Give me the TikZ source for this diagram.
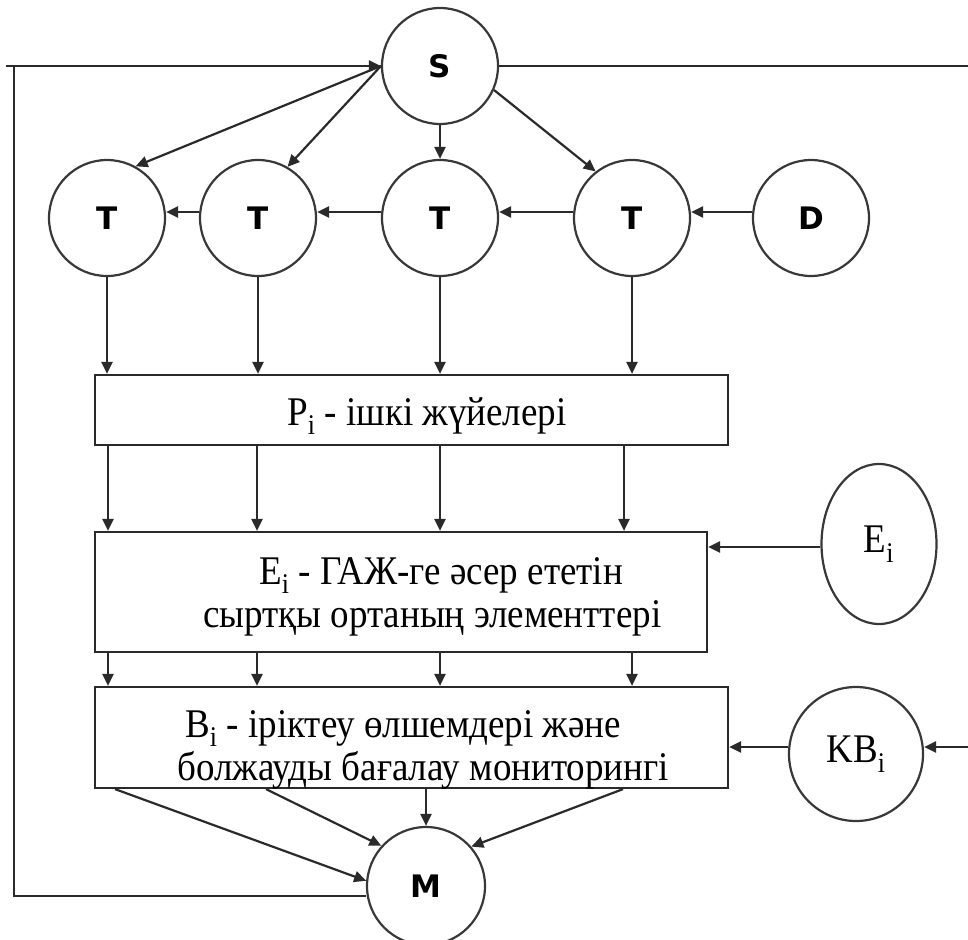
\documentclass[tikz,border=0pt]{standalone}
\usepackage{fontspec}
\setmainfont{Liberation Serif}
\newfontfamily\lettersans{DejaVu Sans}
\usetikzlibrary{arrows.meta,shapes.geometric}

\definecolor{ink}{HTML}{2A2A2A}
\definecolor{rim}{HTML}{383838}

% serif text set slightly taller than wide
\newcommand{\tall}[1]{\scalebox{1}[1.1]{#1}}
% two-line caption, first line indented by #1, baseline of the first line kept
\newcommand{\twolines}[3]{\vtop{\baselineskip=43pt\lineskiplimit=-50pt
  \hbox{\hskip#1\tall{#2}}\hbox{\tall{#3}}}}

\begin{document}
\begin{tikzpicture}[x=1pt,y=-1pt,
  conn/.style={draw=ink,line width=2.2pt},
  arr/.style={conn,-{Triangle[length=12pt,width=11pt]}},
  state/.style={circle,draw=rim,line width=2.2pt,inner sep=0pt,minimum size=116pt,
    font=\lettersans\bfseries\fontsize{31}{31}\selectfont},
  block/.style={rectangle,draw=ink,line width=2.2pt,inner sep=0pt},
  serifbig/.style={font=\fontsize{37}{42}\selectfont,inner sep=0pt},
  line/.style={serifbig,anchor=base west},
]
\useasboundingbox (0,0) rectangle (968,939);

% top row of states
\node[state] (S)  at (440,66)  {S};
\node[state] (T1) at (107,218) {T};
\node[state] (T2) at (258,218) {T};
\node[state] (T3) at (440,218) {T};
\node[state] (T4) at (632,218) {T};
\node[state] (D)  at (811,218) {\raisebox{-6pt}{D}};

% the three stacked blocks
\node[block,minimum width=633pt,minimum height=70pt]  (P) at (411.5,410) {};
\node[block,minimum width=612pt,minimum height=120pt] (E) at (401,592) {};
\node[block,minimum width=633pt,minimum height=101pt] (B) at (411.5,737.5) {};

\node[line] (Ptxt) at (287,425) {\tall{P\textsubscript{i} - ішкі жүйелері}};
\node[line] (Etxt) at (203,584)
  {\twolines{56pt}{E\textsubscript{i} - ГАЖ-ге әсер ететін}{сыртқы ортаның элементтері}};
\node[line] (Btxt) at (177,737)
  {\twolines{8pt}{B\textsubscript{i} - іріктеу өлшемдері және}{болжауды бағалау мониторингі}};

% side inputs and the output node
\node[ellipse,draw=rim,line width=2.2pt,inner sep=0pt,minimum width=115pt,minimum height=160pt,
  serifbig] (Eo) at (879,544) {\raisebox{-4pt}{\tall{E\textsubscript{i}}}};
\node[state,minimum size=134pt,serifbig] (KB) at (856,754) {\tall{KB\textsubscript{i}}};
\node[state,minimum size=118pt] (M) at (426,886) {\raisebox{-6pt}{M}};

% columns of the vertical arrows
\coordinate (c1) at (108,0);
\coordinate (c2) at (257,0);
\coordinate (c3) at (440,0);
\coordinate (c4) at (624,0);
\coordinate (c5) at (632,0);
\coordinate (m1) at (115,0);
\coordinate (m2) at (266,0);
\coordinate (m4) at (623,0);

% feedback loop on the left and open lines on the right
\coordinate (fbStart) at (6,66);
\coordinate (fbTurn)  at (14,66);
\coordinate (fbLow)   at (14,896);
\coordinate (rOut)    at (968,66);
\coordinate (rIn)     at (968,747);

\draw[arr] (fbStart) -- (S.west);
\draw[conn] (fbTurn) -- (fbLow) -- (fbLow -| M.west);
\draw[conn] (S.east) -- (rOut);
\draw[arr] (rIn) -- (rIn -| KB.east);

% S to the T states
\draw[arr] (S.west) -- (T1.61);
\draw[arr] (S.west) -- (T2.60);
\draw[arr] (S.south) -- (T3.north);
\draw[arr] (S.-24) -- (T4.128);

% chain along the row
\draw[arr] ([yshift=6pt]T2.west) -- ([yshift=6pt]T1.east);
\draw[arr] ([yshift=6pt]T3.west) -- ([yshift=6pt]T2.east);
\draw[arr] ([yshift=6pt]T4.west) -- ([yshift=6pt]T3.east);
\draw[arr] ([yshift=6pt]D.west)  -- ([yshift=6pt]T4.east);

% T states into P
\foreach \t in {T1,T2,T3,T4}
  \draw[arr] (\t.south) -- (\t.south |- P.north);

% P into E
\foreach \c in {c1,c2,c3,c4}
  \draw[arr] (P.south -| \c) -- (E.north -| \c);

% E into B
\foreach \c in {c1,c2,c3,c5}
  \draw[arr] (E.south -| \c) -- (B.north -| \c);

% side inputs
\draw[arr] ([yshift=-3pt]Eo.west) -- ([yshift=-3pt]Eo.west -| E.east);
\draw[arr] ([yshift=7pt]KB.west) -- ([yshift=7pt]KB.west -| B.east);

% B into M
\draw[arr] (B.south -| m1) -- (M.175);
\draw[arr] (B.south -| m2) -- (M.138);
\draw[arr] (M.north |- B.south) -- (M.north);
\draw[arr] (B.south -| m4) -- (M.41);
\end{tikzpicture}
\end{document}
